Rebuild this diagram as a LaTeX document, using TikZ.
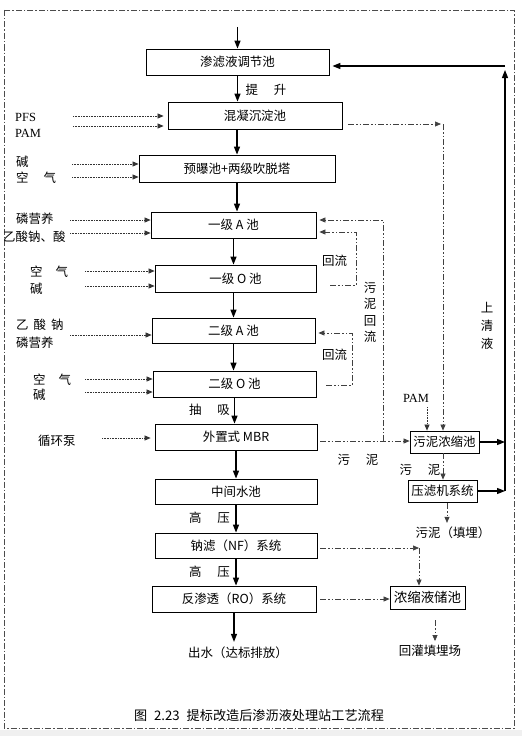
\documentclass[tikz,border=0pt]{standalone}
\usepackage{fontspec}
\setmainfont{Noto Sans CJK SC}
\newfontfamily\latinserif{Liberation Serif}
\usetikzlibrary{arrows.meta}
\tikzset{
  box/.style={draw, line width=0.8pt, inner sep=0pt, font=\fontsize{12.5}{14}\selectfont},
  lab/.style={inner sep=0pt, font=\fontsize{12.5}{14}\selectfont},
  latlab/.style={inner sep=0pt, font=\latinserif\fontsize{12.5}{14}\selectfont},
  main/.style={line width=1.3pt, -{Triangle[length=8bp,width=6bp]}},
  feed/.style={line width=0.7pt, black!80, dash pattern=on 0.8bp off 0.8bp, -{Triangle[length=6bp,width=5bp]}},
  dd/.style={line width=0.7pt, black!75, dash pattern=on 6bp off 2bp on 1.5bp off 2bp on 1.5bp off 2bp},
  ddt/.style={dd, -{Triangle[length=6bp,width=5bp]}},
  frame/.style={line width=0.6pt, black!70, dash pattern=on 6bp off 2bp on 1.5bp off 2bp}
}
\begin{document}
\begin{tikzpicture}[x=1bp,y=-1bp]
\useasboundingbox (0,0) rectangle (522,736);
\fill[gray!12] (0,730) rectangle (522,736);
\draw[frame] (4,10) rectangle (514,728);

% main column boxes
\node[box, minimum width=183bp, minimum height=26bp] (b1) at (237.5,62) {渗滤液调节池};
\node[box, minimum width=174bp, minimum height=27bp] (b2) at (255,115.5) {混凝沉淀池};
\node[box, minimum width=196bp, minimum height=27bp] (b3) at (237,168.5) {预曝池+两级吹脱塔};
\node[box, minimum width=165bp, minimum height=26bp] (b4) at (233.5,225) {一级 A 池};
\node[box, minimum width=161bp, minimum height=27bp] (b5) at (235.5,278.5) {一级 O 池};
\node[box, minimum width=163bp, minimum height=25bp] (b6) at (233.5,330.5) {二级 A 池};
\node[box, minimum width=163bp, minimum height=26bp] (b7) at (234.5,384) {二级 O 池};
\node[box, minimum width=162bp, minimum height=26bp] (b8) at (236,437) {外置式 MBR};
\node[box, minimum width=162bp, minimum height=25bp] (b9) at (236,491.5) {中间水池};
\node[box, minimum width=162bp, minimum height=25bp] (b10) at (236,545.5) {钠滤（NF）系统};
\node[box, minimum width=164bp, minimum height=26bp] (b11) at (234,599) {反渗透（RO）系统};

% side boxes
\node[box, minimum width=69bp, minimum height=22bp] (c1) at (444.5,442) {污泥浓缩池};
\node[box, minimum width=69bp, minimum height=22bp] (c2) at (442.5,491) {压滤机系统};
\node[box, minimum width=75bp, minimum height=23bp, font=\fontsize{13.5}{14}\selectfont] (c3) at (427.5,597.5) {浓缩液储池};

% end texts
\node[lab] (out) at (238,653) {出水（达标排放）};
\node[lab] (fill) at (453,533) {污泥（填埋）};
\node[lab] (hg) at (430,651) {回灌填埋场};
\node[lab, font=\fontsize{13.2}{15}\selectfont] (cap) at (259,715) {图\hspace{7bp}2.23\hspace{7bp}提标改造后渗沥液处理站工艺流程};

% main flow labels
\node[lab] (t1) at (266,90) {提\hspace{16bp}升};
\node[lab] (t2) at (209.5,410) {抽\hspace{16bp}吸};
\node[lab] (t3) at (209.5,518) {高\hspace{16bp}压};
\node[lab] (t4) at (209.5,572) {高\hspace{16bp}压};

% main vertical arrows
\coordinate (top) at (237.5,27);
\draw[main] (top) -- (b1.north);
\draw[main] (b1.south) -- (b1.south |- b2.north);
\draw[main] (b3.north |- b2.south) -- (b3.north);
\draw[main] (b3.south) -- (b3.south |- b4.north);
\draw[main] (b4.south) -- (b4.south |- b5.north);
\draw[main] (b6.north |- b5.south) -- (b6.north);
\draw[main] (b6.south) -- (b6.south |- b7.north);
\draw[main] (b7.south) -- (b7.south |- b8.north);
\draw[main] (b8.south) -- (b8.south |- b9.north);
\draw[main] (b9.south) -- (b9.south |- b10.north);
\draw[main] (b10.south) -- (b10.south |- b11.north);
\draw[main, shorten >=5bp] (b11.south) -- (b11.south |- out.north);

% left inputs
\node[latlab, anchor=west] (pfs) at (15,117) {PFS};
\node[latlab, anchor=west] (pam1) at (15,133) {PAM};
\node[lab, anchor=west] (j1) at (16,162) {碱};
\node[lab, anchor=west] (k1) at (16,178) {空\hspace{15bp}气};
\node[lab, anchor=west] (p1) at (16,219) {磷营养};
\node[lab, anchor=west] (y1) at (3,237) {乙酸钠、酸};
\node[lab, anchor=west] (k2) at (30,272) {空\hspace{13bp}气};
\node[lab, anchor=west] (j2) at (30,289) {碱};
\node[lab, anchor=west] (y2) at (16,325) {乙\hspace{5bp}酸\hspace{5bp}钠};
\node[lab, anchor=west] (p2) at (16,343) {磷营养};
\node[lab, anchor=west] (k3) at (33,380) {空\hspace{13bp}气};
\node[lab, anchor=west] (j3) at (33,395) {碱};
\node[lab, anchor=west] (xh) at (38,441) {循环泵};

\coordinate (f1) at (73,116);
\coordinate (f2) at (73,126);
\coordinate (f3) at (72,164);
\coordinate (f4) at (72,177);
\coordinate (f5) at (70,220);
\coordinate (f6) at (70,233);
\coordinate (f7) at (85,271);
\coordinate (f8) at (85,286);
\coordinate (f9) at (70,335);
\coordinate (f10) at (85,379);
\coordinate (f11) at (85,392);
\coordinate (f12) at (102,438);
\draw[feed, shorten >=4bp] (f1) -- (f1 -| b2.west);
\draw[feed, shorten >=4bp] (f2) -- (f2 -| b2.west);
\draw[feed] (f3) -- (f3 -| b3.west);
\draw[feed] (f4) -- (f4 -| b3.west);
\draw[feed] (f5) -- (f5 -| b4.west);
\draw[feed] (f6) -- (f6 -| b4.west);
\draw[feed] (f7) -- (f7 -| b5.west);
\draw[feed] (f8) -- (f8 -| b5.west);
\draw[feed] (f9) -- (f9 -| b6.west);
\draw[feed] (f10) -- (f10 -| b7.west);
\draw[feed] (f11) -- (f11 -| b7.west);
\draw[feed, shorten >=4bp] (f12) -- (f12 -| b8.west);

% sludge from coagulation tank
\coordinate (m1) at (348,124);
\coordinate (m2) at (443,124);
\draw[ddt, shorten >=2bp] (m1) -- (m2);
\draw[ddt] (m2) -- (m2 |- c1.north);

% sludge return
\coordinate (r0) at (320,441);
\coordinate (r1) at (383,441);
\coordinate (r2) at (383,220);
\draw[ddt] (r0) -- (r0 -| c1.west);
\draw[ddt, shorten >=3bp] (r1) -- (r2) -- (r2 -| b4.east);
\node[lab, align=center, font=\fontsize{12.5}{16.5}\selectfont] (wn) at (370,312.5) {污\\泥\\回\\流};

% internal recycles
\coordinate (q1) at (330,285);
\coordinate (q2) at (356,285);
\coordinate (q3) at (356,232);
\draw[ddt, shorten >=3bp] (q1) -- (q2) -- (q3) -- (q3 -| b4.east);
\node[lab] (hl1) at (334.5,261) {回流};
\coordinate (s1) at (326,385);
\coordinate (s2) at (352,385);
\coordinate (s3) at (352,333);
\draw[ddt, shorten >=3bp] (s1) -- (s2) -- (s3) -- (s3 -| b6.east);
\node[lab] (hl2) at (334.5,355) {回流};

% sludge treatment
\node[latlab] (pam2) at (416,398) {PAM};
\coordinate (pa) at (427,407);
\draw[feed] (pa) -- (pa |- c1.north);
\node[lab] (wn1) at (358,460) {污\hspace{16bp}泥};
\node[lab] (wn2) at (420,470) {污\hspace{16bp}泥};
\draw[ddt] (c1.south -| m2) -- (c2.north -| m2);
\coordinate (fa) at (447,503);
\draw[ddt, shorten >=4bp] (fa) -- (fa |- fill.north);

% supernatant return
\coordinate (vb) at (505,491);
\coordinate (vu) at (505,70);
\coordinate (vt) at (505,66);
\draw[main] (c1.east) -- (c1.east -| vb);
\draw[main] (c2.east) -- (c2.east -| vb);
\draw[main] (vb) -- (vu);
\draw[main, shorten >=3bp] (vt) -- (vt -| b1.east);
\node[lab, align=center, font=\fontsize{12.5}{18}\selectfont] (sq) at (487,326) {上\\清\\液};

% NF / RO concentrate
\coordinate (n1) at (320,548);
\coordinate (n2) at (419,548);
\draw[ddt] (n1) -- (n2);
\draw[ddt] (n2) -- (n2 |- c3.north);
\coordinate (o1) at (320,599);
\draw[ddt] (o1) -- (o1 -| c3.west);
\coordinate (g1) at (435,620);
\draw[ddt, shorten >=4bp] (g1) -- (g1 |- hg.north);
\end{tikzpicture}
\end{document}
